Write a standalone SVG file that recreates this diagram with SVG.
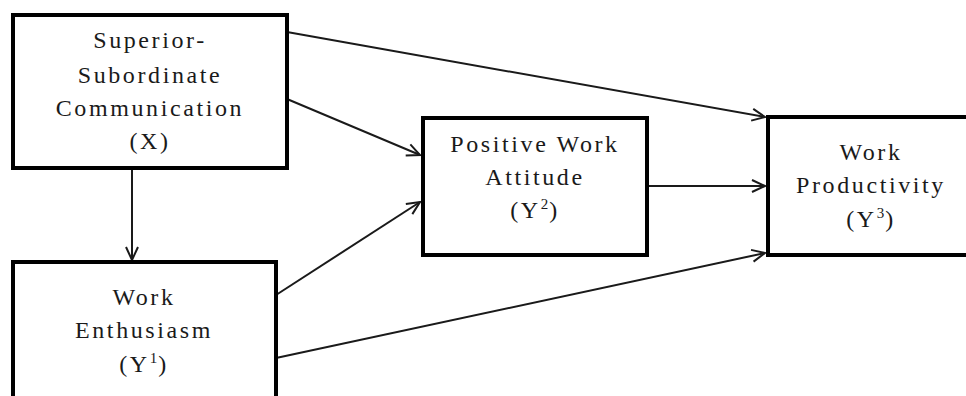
<svg xmlns="http://www.w3.org/2000/svg" width="966" height="396" viewBox="0 0 966 396">
<style>
.box{fill:#fff;stroke:#000;stroke-width:4}
.lbl{font-family:"Liberation Serif","Times New Roman",serif;font-size:24px;fill:#1a1a1a;text-anchor:middle;letter-spacing:2.6px}
.sup{font-size:15px;letter-spacing:1px}
.edge{stroke:#1a1a1a;stroke-width:2;fill:none;marker-end:url(#arr)}
</style>
<defs>
<marker id="arr" markerUnits="userSpaceOnUse" markerWidth="16" markerHeight="16" viewBox="-14 -8 16 16" refX="0" refY="0" orient="auto">
<path d="M-13,-6 L0,0 L-13,6" fill="none" stroke="#1a1a1a" stroke-width="2"/>
</marker>
</defs>
<rect width="966" height="396" fill="#fff"/>
<g id="connectors">
<line class="edge" x1="287" y1="32" x2="765" y2="117"/>
<line class="edge" x1="287" y1="99" x2="420" y2="155"/>
<line class="edge" x1="647" y1="186" x2="765" y2="186"/>
<line class="edge" x1="276" y1="295" x2="420" y2="202"/>
<line class="edge" x1="276" y1="358" x2="765" y2="253"/>
<line class="edge" x1="132" y1="168" x2="132" y2="260"/>
</g>
<g id="node-x">
<rect class="box" x="13" y="15" width="274" height="153"/>
<text class="lbl" x="150" y="48">Superior-</text>
<text class="lbl" x="150" y="83">Subordinate</text>
<text class="lbl" x="150" y="116">Communication</text>
<text class="lbl" x="150" y="149">(X)</text>
</g>
<g id="node-y1">
<rect class="box" x="13" y="262" width="263" height="170"/>
<text class="lbl" x="144" y="305">Work</text>
<text class="lbl" x="144" y="338">Enthusiasm</text>
<text class="lbl" x="144" y="372">(Y<tspan class="sup" dy="-9">1</tspan><tspan dy="9">)</tspan></text>
</g>
<g id="node-y2">
<rect class="box" x="423" y="118" width="224" height="137"/>
<text class="lbl" x="535" y="152">Positive Work</text>
<text class="lbl" x="535" y="185">Attitude</text>
<text class="lbl" x="535" y="218">(Y<tspan class="sup" dy="-9">2</tspan><tspan dy="9">)</tspan></text>
</g>
<g id="node-y3">
<rect class="box" x="768" y="117" width="230" height="138"/>
<text class="lbl" x="871" y="160">Work</text>
<text class="lbl" x="871" y="193">Productivity</text>
<text class="lbl" x="871" y="227">(Y<tspan class="sup" dy="-9">3</tspan><tspan dy="9">)</tspan></text>
</g>
</svg>
